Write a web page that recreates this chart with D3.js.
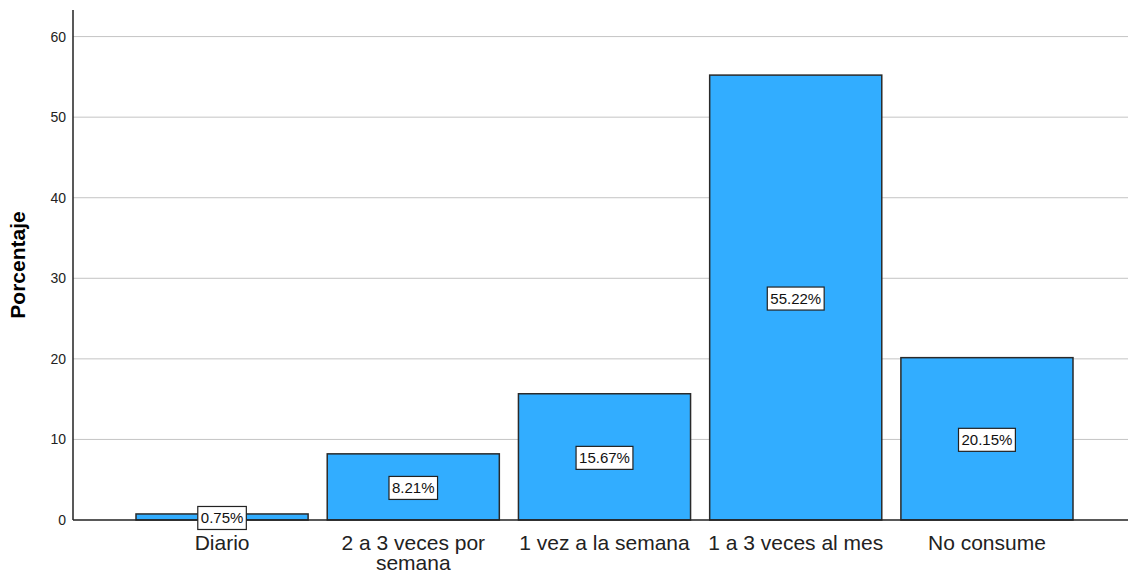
<!DOCTYPE html>
<html>
<head>
<meta charset="utf-8">
<script src="https://cdn.jsdelivr.net/npm/d3@7"></script>
<style>
  body { margin: 0; background: #fff; }
  text { font-family: "Liberation Sans", Arial, sans-serif; }
</style>
</head>
<body>
<div id="chart"></div>
<script>
var categories = ["Diario", "2 a 3 veces por semana", "1 vez a la semana", "1 a 3 veces al mes", "No consume"];
var catLines = [["Diario"], ["2 a 3 veces por", "semana"], ["1 vez a la semana"], ["1 a 3 veces al mes"], ["No consume"]];
var percentages = [0.75, 8.21, 15.67, 55.22, 20.15];
var yTicks = [0, 10, 20, 30, 40, 50, 60];

var width = 1128, height = 573;
var plotLeft = 73, plotRight = 1128, plotTop = 10, plotBottom = 520;

var svg = d3.select('#chart')
          .append('svg')
          .attr('width', width)
          .attr('height', height);

var x = d3.scaleBand().domain(categories).range([136, 1073]).paddingInner(0.1).paddingOuter(0);
var y = d3.scaleLinear().domain([0, 63.3]).range([plotBottom, plotTop]);

// grid lines
svg.append("g").selectAll("line")
   .data(yTicks.filter(function(d) { return d > 0; }))
   .enter().append("line")
   .attr("x1", plotLeft).attr("x2", plotRight)
   .attr("y1", function(d) { return y(d); })
   .attr("y2", function(d) { return y(d); })
   .attr("stroke", "#c4c4c4")
   .attr("stroke-width", 1);

// y axis
var yAxis = svg.append("g")
   .attr("transform", "translate(" + plotLeft + ",0)")
   .call(d3.axisLeft(y).tickValues(yTicks).tickSize(0).tickPadding(7));
yAxis.select(".domain").remove();
yAxis.selectAll("text").style("font-size", "14px").attr("fill", "#222");

svg.append("line")
   .attr("x1", plotLeft).attr("x2", plotLeft)
   .attr("y1", plotTop).attr("y2", plotBottom)
   .attr("stroke", "#222").attr("stroke-width", 1.5);

svg.append("text")
   .attr("transform", "translate(25," + ((plotTop + plotBottom) / 2) + ") rotate(-90)")
   .attr("text-anchor", "middle")
   .style("font-size", "21px")
   .style("font-weight", "bold")
   .attr("fill", "#000")
   .text("Porcentaje");

// bars
svg.append("g").selectAll("rect")
   .data(percentages)
   .enter().append("rect")
   .attr("x", function(d, i) { return x(categories[i]); })
   .attr("y", function(d) { return y(d); })
   .attr("width", x.bandwidth())
   .attr("height", function(d) { return y(0) - y(d); })
   .attr("fill", "#32adff")
   .attr("stroke", "#2a2a2a")
   .attr("stroke-width", 1.5);

// x axis baseline
svg.append("line")
   .attr("x1", plotLeft).attr("x2", plotRight)
   .attr("y1", y(0)).attr("y2", y(0))
   .attr("stroke", "#222").attr("stroke-width", 1.5);

// value labels
var lab = svg.append("g").selectAll("g")
   .data(percentages)
   .enter().append("g")
   .attr("transform", function(d, i) {
     return "translate(" + (x(categories[i]) + x.bandwidth() / 2) + "," + ((y(d) + y(0)) / 2 + 1) + ")";
   });
lab.append("rect").attr("class", "box");
lab.append("text")
   .attr("text-anchor", "middle")
   .attr("dy", "0.36em")
   .style("font-size", "15px")
   .attr("fill", "#111")
   .text(function(d) { return d.toFixed(2) + "%"; });
lab.each(function() {
  var g = d3.select(this);
  var bb = g.select("text").node().getBBox();
  g.select("rect")
   .attr("x", bb.x - 3).attr("y", -11.5)
   .attr("width", bb.width + 6).attr("height", 23)
   .attr("fill", "#fff").attr("stroke", "#222").attr("stroke-width", 1.2);
});

// category labels
var cat = svg.append("g").selectAll("text")
   .data(catLines)
   .enter().append("text")
   .attr("text-anchor", "middle")
   .attr("transform", function(d, i) {
     return "translate(" + (x(categories[i]) + x.bandwidth() / 2) + ",550)";
   })
   .style("font-size", "21px")
   .attr("fill", "#222");
cat.selectAll("tspan")
   .data(function(d) { return d; })
   .enter().append("tspan")
   .attr("x", 0)
   .attr("dy", function(d, i) { return i === 0 ? 0 : 20; })
   .text(function(d) { return d; });
</script>
</body>
</html>
